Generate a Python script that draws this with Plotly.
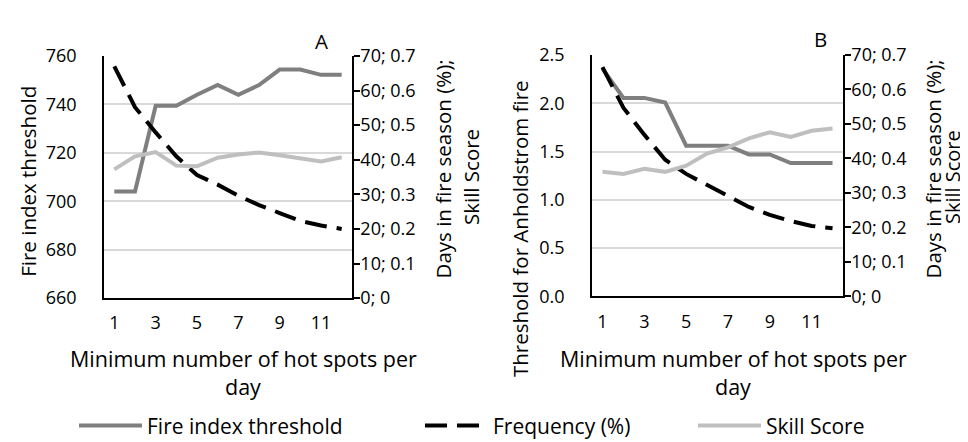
import plotly.graph_objects as go

W, H = 968, 442

hot_spots = list(range(1, 13))
tick_vals = [1, 3, 5, 7, 9, 11]

# Panel A
fire_index_threshold = [704, 704, 739.4, 739.4, 744, 748, 744, 748, 754.4, 754.4, 752.2, 752.2]
frequency_a = [67.0, 55.2, 47.9, 41.0, 35.6, 32.8, 29.6, 26.9, 24.6, 22.3, 21.0, 20.0]
skill_a = [0.372, 0.410, 0.422, 0.383, 0.381, 0.406, 0.415, 0.421, 0.413, 0.403, 0.395, 0.407]

# Panel B
anholdstrom_threshold = [2.36, 2.056, 2.056, 2.007, 1.56, 1.56, 1.56, 1.47, 1.47, 1.38, 1.38, 1.38]
frequency_b = [66.5, 54.7, 46.9, 39.6, 35.5, 32.3, 29.1, 25.9, 23.6, 21.8, 20.4, 19.7]
skill_b = [0.361, 0.355, 0.370, 0.361, 0.379, 0.414, 0.432, 0.458, 0.476, 0.462, 0.480, 0.487]

right_tick_vals = [0, 10, 20, 30, 40, 50, 60, 70]
right_tick_text = ["0; 0", "10; 0.1", "20; 0.2", "30; 0.3", "40; 0.4", "50; 0.5", "60; 0.6", "70; 0.7"]

FONT = "Open Sans"
DARK = "#7f7f7f"
LIGHT = "#bfbfbf"
GRID = "#d9d9d9"
LW = 4
DASH = "22px,10px"


def px_x(p):
    return p / W


def px_y(p):
    return 1 - p / H


fig = go.Figure()

# Panel A traces
fig.add_trace(go.Scatter(x=hot_spots, y=fire_index_threshold, mode="lines", name="Fire index threshold",
                         line=dict(color=DARK, width=LW), xaxis="x", yaxis="y", legend="legend"))
fig.add_trace(go.Scatter(x=hot_spots, y=frequency_a, mode="lines", name="Frequency (%)",
                         line=dict(color="black", width=LW, dash=DASH), xaxis="x", yaxis="y2", legend="legend2"))
fig.add_trace(go.Scatter(x=hot_spots, y=skill_a, mode="lines", name="Skill Score",
                         line=dict(color=LIGHT, width=LW), xaxis="x", yaxis="y3", legend="legend3"))

# Panel B traces
fig.add_trace(go.Scatter(x=hot_spots, y=anholdstrom_threshold, mode="lines", showlegend=False,
                         line=dict(color=DARK, width=LW), xaxis="x2", yaxis="y4"))
fig.add_trace(go.Scatter(x=hot_spots, y=frequency_b, mode="lines", showlegend=False,
                         line=dict(color="black", width=LW, dash=DASH), xaxis="x2", yaxis="y5"))
fig.add_trace(go.Scatter(x=hot_spots, y=skill_b, mode="lines", showlegend=False,
                         line=dict(color=LIGHT, width=LW), xaxis="x2", yaxis="y6"))

tickfont = dict(family=FONT, size=18, color="black")

xdomA = [px_x(96), px_x(344)]
ydomA = [px_y(293), px_y(37)]
xdomB = [px_x(584), px_x(835)]
ydomB = [px_y(291), px_y(36)]

xcommon = dict(range=[0.5, 12.5], tickvals=tick_vals, showline=True, linecolor="black", linewidth=1.5,
               showgrid=False, zeroline=False, ticks="", tickfont=tickfont, ticklabelstandoff=8)

left_common = dict(showgrid=True, gridcolor=GRID, gridwidth=1.5, showline=True, linecolor="black",
                   linewidth=1.5, zeroline=False, ticks="", tickfont=tickfont, ticklabelstandoff=22)
right_common = dict(side="right", range=[0, 70], tickvals=right_tick_vals, ticktext=right_tick_text,
                    showgrid=False, showline=True, linecolor="black", linewidth=1.5, ticks="outside",
                    ticklen=6, tickwidth=1.5, tickcolor="black", zeroline=False, tickfont=tickfont,
                    ticklabelstandoff=-3)

fig.update_layout(
    width=W, height=H, autosize=False,
    margin=dict(l=0, r=0, t=0, b=0),
    paper_bgcolor="white", plot_bgcolor="white",
    font=dict(family=FONT, color="black"),
    xaxis=dict(domain=xdomA, anchor="y", **xcommon),
    xaxis2=dict(domain=xdomB, anchor="y4", **xcommon),
    yaxis=dict(domain=ydomA, anchor="x", range=[660, 760], dtick=20, **left_common),
    yaxis2=dict(domain=ydomA, anchor="x", overlaying="y", **right_common),
    yaxis3=dict(domain=ydomA, anchor="x", overlaying="y", range=[0, 0.7], visible=False),
    yaxis4=dict(domain=ydomB, anchor="x2", range=[0, 2.5], dtick=0.5, tickformat=".1f", **left_common),
    yaxis5=dict(domain=ydomB, anchor="x2", overlaying="y4", **right_common),
    yaxis6=dict(domain=ydomB, anchor="x2", overlaying="y4", range=[0, 0.7], visible=False),
)

legfont = dict(family=FONT, size=21, color="black")
leg_y = px_y(428)
for key, xpx in (("legend", 66), ("legend2", 412), ("legend3", 685)):
    fig.layout[key] = dict(x=px_x(xpx), y=leg_y, xanchor="left", yanchor="middle", orientation="h",
                           font=legfont, bgcolor="rgba(0,0,0,0)", itemwidth=63)

ann = []


def text(x, y, s, size=20.5, angle=0):
    ann.append(dict(x=px_x(x), y=px_y(y), xref="paper", yref="paper", text=s, showarrow=False,
                    xanchor="center", yanchor="middle", textangle=angle,
                    font=dict(family=FONT, size=size, color="black")))


text(313, 21, "A")
text(812, 19, "B")
text(235, 357, "Minimum number of hot spots per", size=21.5)
text(235, 387, "day", size=21.5)
text(725, 357, "Minimum number of hot spots per", size=21.5)
text(725, 387, "day", size=21.5)
text(20, 170, "Fire index threshold", angle=-90)
text(512, 220, "Threshold for Anholdstrom fire", angle=-90)
text(435, 157, "Days in fire season (%);", angle=-90)
text(463, 165, "Skill Score", angle=-90)
text(925, 157, "Days in fire season (%);", angle=-90)
text(944, 165, "Skill Score", size=20, angle=-90)
fig.update_layout(annotations=ann)

fig.write_html("out.html")
